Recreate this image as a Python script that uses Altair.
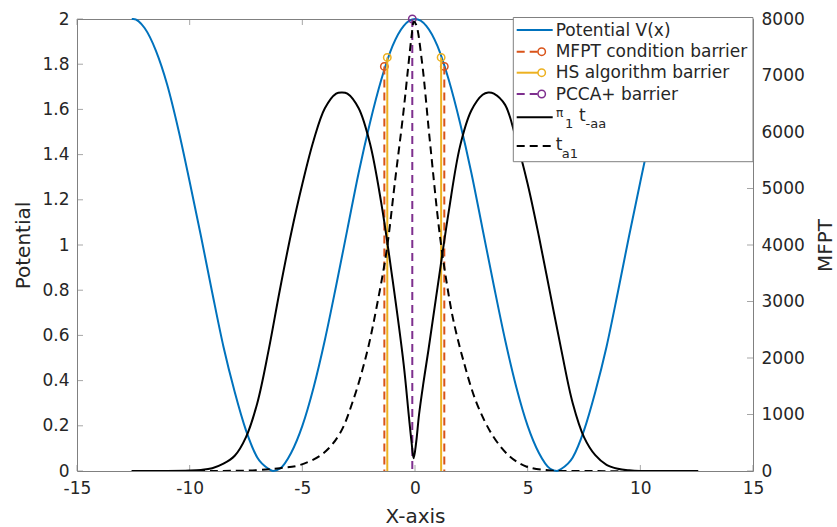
import altair as alt
import pandas as pd

# ---------------- data ----------------
x_ticks = [-15, -10, -5, 0, 5, 10, 15]
pot_ticks = [0, 0.2, 0.4, 0.6, 0.8, 1, 1.2, 1.4, 1.6, 1.8, 2]
mfpt_ticks = [0, 1000, 2000, 3000, 4000, 5000, 6000, 7000, 8000]

pot_x = [-12.57, -12.5, -12, -11.5, -11, -10.5, -10, -9.5, -9, -8.5, -8, -7.5, -7, -6.5, -6.3, -6,
         -5.5, -5, -4.5, -4, -3.5, -3, -2.5, -2, -1.5, -1, -0.5, 0,
         0.5, 1, 1.5, 2, 2.5, 3, 3.5, 4, 4.5, 5, 5.5, 6, 6.3, 6.5, 7, 7.5, 8, 8.5, 9, 9.5,
         10, 10.5, 11, 11.5, 12, 12.5, 12.57]
pot_v = [2.00, 2.00, 1.96, 1.86, 1.71, 1.51, 1.28, 1.04, 0.79, 0.55, 0.35, 0.18, 0.06, 0.01, 0.00, 0.01,
         0.08, 0.20, 0.37, 0.58, 0.82, 1.07, 1.32, 1.54, 1.73, 1.88, 1.97, 2.00,
         1.97, 1.88, 1.73, 1.54, 1.32, 1.07, 0.82, 0.58, 0.37, 0.20, 0.08, 0.01, 0.00, 0.01, 0.06, 0.18,
         0.35, 0.55, 0.79, 1.04, 1.28, 1.51, 1.71, 1.86, 1.96, 2.00, 2.00]

taa_x = [-12.57, -11, -10, -9.5, -9, -8.5, -8, -7.5, -7, -6.5, -6, -5.5, -5, -4.5, -4, -3.5, -3.25,
         -3, -2.5, -2, -1.5, -1, -0.5, -0.28, -0.15, -0.06, 0.05, 0.18, 0.37, 0.6, 1, 1.5, 2, 2.5,
         3, 3.25, 3.5, 4, 4.5, 5, 5.5, 6, 6.5, 7, 7.5, 8, 8.5, 9, 9.5, 10, 11, 12.57]
taa_v = [0, 0, 8, 20, 50, 130, 270, 600, 1200, 2130, 3200, 4200, 5080, 5850, 6420, 6680, 6700,
         6680, 6420, 5800, 4750, 3400, 1880, 1000, 500, 225, 500, 1000, 1550, 2150, 3250, 4600,
         5750, 6380, 6660, 6700, 6680, 6480, 5850, 5080, 4150, 3140, 2130, 1200, 600, 280, 110,
         40, 12, 0, 0, 0]

ta1_x = [-12.57, -9, -7, -6, -5.1, -4.07, -3.33, -2.74, -2.14, -1.70, -1.26, -0.89, -0.52, -0.30,
         -0.15, -0.05, 0.05, 0.30, 0.67, 1.11, 1.48, 1.70, 2.14, 2.74, 3.48, 4.22, 4.96, 6, 7, 12.57]
ta1_v = [0, 0, 15, 50, 106, 313, 667, 1257, 2083, 2908, 3900, 5120, 6331, 7156,
         7700, 7950, 7900, 7274, 5800, 4150, 3150, 2672, 1965, 1198, 607, 253, 76, 10, 0, 0]

mfpt_bx = [-1.36, 1.30]
mfpt_by = [1.79, 1.79]
hs_bx = [-1.23, 1.16]
hs_by = [1.83, 1.83]
pcca_bx = [-0.12]
pcca_by = [2.0]

# ---------------- style / layout ----------------
W, H = 676, 452
FONT = "DejaVu Sans"
GRAY = "#808080"
TXT = "#262626"
BLUE, ORANGE, YELLOW, PURPLE = "#0072BD", "#D95319", "#EDB120", "#7E2F8E"
DASH = [8, 5]
LW = 2
MSIZE = 55

df_pot = pd.DataFrame({"x": pot_x, "v": pot_v})
df_taa = pd.DataFrame({"x": taa_x, "v": taa_v})
df_ta1 = pd.DataFrame({"x": ta1_x, "v": ta1_v})
df_mfpt = pd.DataFrame({"x": mfpt_bx, "v": mfpt_by})
df_hs = pd.DataFrame({"x": hs_bx, "v": hs_by})
df_pcca = pd.DataFrame({"x": pcca_bx, "v": pcca_by})
df_xt = pd.DataFrame({"x": x_ticks})
df_pt = pd.DataFrame({"v": pot_ticks})
df_mt = pd.DataFrame({"v": mfpt_ticks})
one = pd.DataFrame({"k": [0]})

lab = "'' + datum.value"


def X():
    return alt.X("x:Q", scale=alt.Scale(domain=[-15, 15], nice=False, zero=False),
                 axis=alt.Axis(values=x_ticks, title="X-axis", labelExpr=lab, labelPadding=9,
                               titlePadding=10, labelFlush=False))


def YL():
    return alt.Y("v:Q", scale=alt.Scale(domain=[0, 2], nice=False),
                 axis=alt.Axis(values=pot_ticks, title="Potential", orient="left", labelExpr=lab,
                               labelPadding=8, titlePadding=8, labelFlush=False))


def YR():
    return alt.Y("v:Q", scale=alt.Scale(domain=[0, 8000], nice=False),
                 axis=alt.Axis(values=mfpt_ticks, title="MFPT", orient="right", labelExpr=lab,
                               labelPadding=8, titlePadding=31, titleAngle=270, labelFlush=False))


blue = alt.Chart(df_pot).mark_line(color=BLUE, strokeWidth=LW, interpolate="monotone").encode(x=X(), y=YL())


def barrier(df, color, dash):
    kw = dict(color=color, strokeWidth=LW)
    if dash:
        kw["strokeDash"] = DASH
    rule = alt.Chart(df).mark_rule(**kw).encode(x=X(), y=YL(), y2=alt.datum(0))
    pts = alt.Chart(df).mark_point(shape="circle", filled=False, size=MSIZE, strokeWidth=1.5,
                                   color=color, opacity=1).encode(x=X(), y=YL())
    return rule + pts


xt_bot = alt.Chart(df_xt).mark_tick(orient="vertical", color=GRAY, size=6, thickness=1).encode(
    x=X(), y=alt.value(H - 3))
xt_top = alt.Chart(df_xt).mark_tick(orient="vertical", color=GRAY, size=6, thickness=1).encode(
    x=X(), y=alt.value(3))
yt_left = alt.Chart(df_pt).mark_tick(orient="horizontal", color=GRAY, size=6, thickness=1).encode(
    y=YL(), x=alt.value(3))

left = alt.layer(blue, barrier(df_mfpt, ORANGE, True), barrier(df_hs, YELLOW, False),
                 barrier(df_pcca, PURPLE, True), xt_bot, xt_top, yt_left)

solid = alt.Chart(df_taa).mark_line(color="black", strokeWidth=LW, interpolate="catmull-rom",
                                    clip=True).encode(x=X(), y=YR())
dashed = alt.Chart(df_ta1).mark_line(color="black", strokeWidth=LW, strokeDash=DASH,
                                     interpolate="catmull-rom", clip=True).encode(x=X(), y=YR())
yt_right = alt.Chart(df_mt).mark_tick(orient="horizontal", color=GRAY, size=6, thickness=1).encode(
    y=YR(), x=alt.value(W - 3))

right = alt.layer(solid, dashed, yt_right)

# ---------------- manual legend (layout in pixels of the plot area) ----------------
LX0, LX1, LCX, TX = 439.7, 475.7, 464.7, 478.7
legend_layers = [
    alt.Chart(one).mark_rect(fill="white", stroke=GRAY, strokeWidth=1).encode(
        x=alt.value(436.3), x2=alt.value(W), y=alt.value(-1.5), y2=alt.value(142.7))
]
rows = [
    (11, BLUE, None, False, LX1),
    (32.7, ORANGE, DASH, True, 461),
    (53.7, YELLOW, None, True, 461),
    (75, PURPLE, DASH, True, 461),
    (98.3, "black", None, False, LX1),
    (127, "black", DASH, False, LX1),
]
for y, c, d, circ, xend in rows:
    kw = dict(color=c, strokeWidth=LW)
    if d:
        kw["strokeDash"] = d
    legend_layers.append(alt.Chart(one).mark_rule(**kw).encode(
        x=alt.value(LX0), x2=alt.value(xend), y=alt.value(y)))
    if circ:
        legend_layers.append(alt.Chart(one).mark_point(shape="circle", filled=False, size=MSIZE,
                                                       strokeWidth=1.5, color=c, opacity=1).encode(
            x=alt.value(LCX), y=alt.value(y)))

texts = [
    (TX, 17, "Potential V(x)", 17),
    (TX, 38.3, "MFPT condition barrier", 17),
    (TX, 59.3, "HS algorithm barrier", 17),
    (TX, 81, "PCCA+ barrier", 17),
    (479, 98.3, "π", 12),
    (488, 109, "1", 13),
    (502, 101.7, "t", 17),
    (508.5, 109, "-aa", 13),
    (TX, 131, "t", 17),
    (484.7, 139.3, "a1", 13),
]
for x, y, t, fs in texts:
    legend_layers.append(alt.Chart(one).mark_text(align="left", baseline="alphabetic", font=FONT,
                                                  fontSize=fs, color=TXT).encode(
        x=alt.value(x), y=alt.value(y), text=alt.value(t)))

legend = alt.layer(*legend_layers)

chart = alt.layer(left, right, legend).resolve_scale(y="independent").properties(
    width=W, height=H,
    autosize=alt.AutoSizeParams(type="none"),
    padding={"left": 77, "top": 19, "right": 837 - 77 - W, "bottom": 527 - 19 - H},
).configure_view(stroke=GRAY, strokeWidth=1).configure_axis(
    labelFont=FONT, titleFont=FONT, labelFontSize=17, titleFontSize=20, labelColor=TXT,
    titleColor=TXT, titleFontWeight="normal", grid=False, domain=False, ticks=False, tickSize=0
)

chart.save("out.html", embed_options={"renderer": "svg", "actions": False})
